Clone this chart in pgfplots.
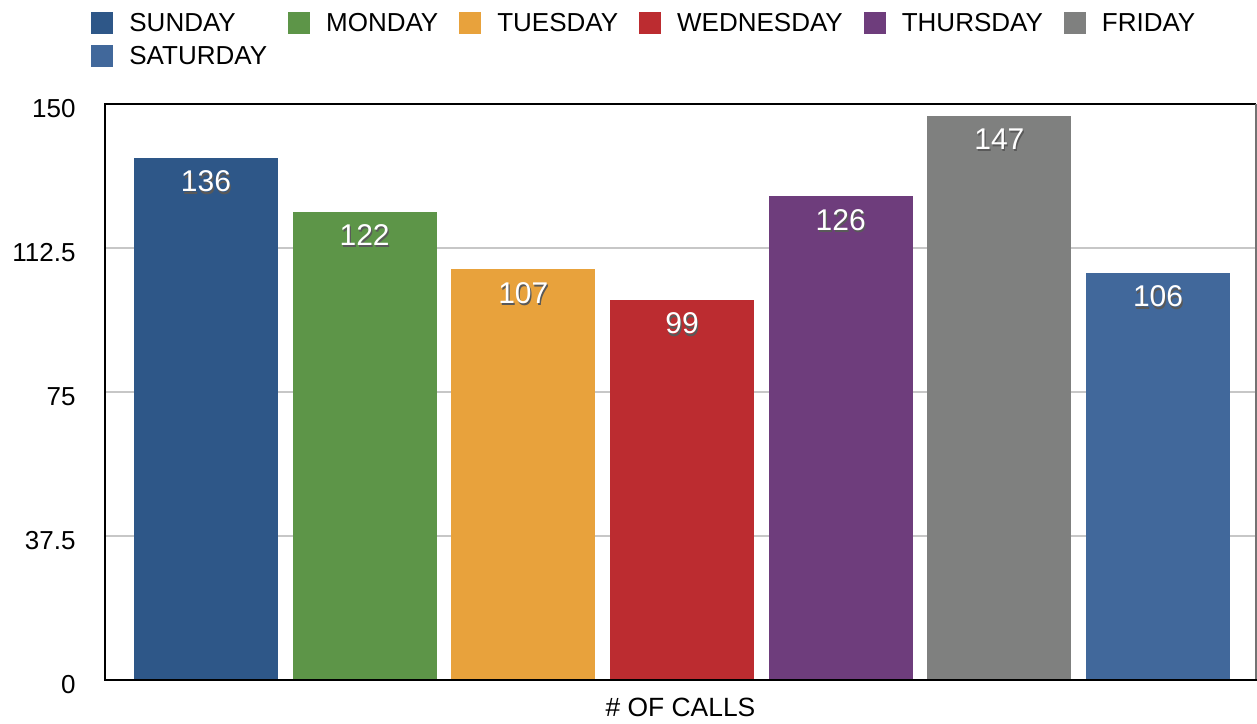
\documentclass[border=0pt]{standalone}
\usepackage{pgfplots}
\pgfplotsset{compat=1.18}
\usepackage{fontspec}
\setmainfont{Liberation Sans}
\definecolor{csun}{HTML}{2E5788}
\definecolor{cmon}{HTML}{5D9548}
\definecolor{ctue}{HTML}{E8A23C}
\definecolor{cwed}{HTML}{BC2C30}
\definecolor{cthu}{HTML}{6E3D7C}
\definecolor{cfri}{HTML}{7F807F}
\definecolor{csat}{HTML}{41689B}
\newcommand\shadowed[1]{\makebox[0pt][l]{\hspace{0.6pt}\raisebox{-1.2pt}{\textcolor{black!65}{#1}}}\textcolor{white}{#1}}
\begin{document}
\begin{tikzpicture}
\begin{axis}[name=ax, scale only axis, width=575.5pt, height=288pt,
  ybar, bar width=72pt, bar shift=0pt,
  xmin=0.3636, xmax=7.6175, ymin=0, ymax=150,
  xtick=\empty, ytick={0,37.5,75,112.5,150},
  ymajorgrids, grid style={color=black!22, line width=0.6pt},
  major tick length=0pt,
  axis line style={draw=none},
  clip=false,
  /pgf/number format/assume math mode=true,
  tick label style={font=\fontsize{13}{15}\selectfont},
  yticklabel style={anchor=east, inner sep=0pt, xshift=-14.5pt, yshift=-2.3pt},
  xlabel={\# OF CALLS},
  xlabel style={font=\fontsize{13.2}{15}\selectfont, at={(axis description cs:0.5,0)}, anchor=north, inner sep=0pt, yshift=-8.8pt},
  legend columns=6,
  legend style={at={(0,1)}, anchor=north west, xshift=-7pt, yshift=46.5pt,
    draw=none, fill=none, inner sep=0pt, font=\fontsize{13}{15}\selectfont,
    row sep=4.5pt, nodes={inner sep=0pt, text height=10pt, text depth=2pt},
    /tikz/every odd column/.append style={column sep=8pt},
    /tikz/every even column/.append style={column sep=10.5pt},
    cells={anchor=west}},
  legend image code/.code={\fill[#1] (0pt,-5.5pt) rectangle (11pt,5.5pt);},
  nodes near coords={\shadowed{\pgfmathprintnumber{\pgfplotspointmeta}}},
  every node near coord/.append style={anchor=north, inner sep=0pt, yshift=-6.3pt, font=\fontsize{15}{17}\selectfont},
]
\addplot[fill=csun, draw=none] coordinates {(1,136)}; \addlegendentry{SUNDAY}
\addplot[fill=cmon, draw=none] coordinates {(2,122)}; \addlegendentry{MONDAY}
\addplot[fill=ctue, draw=none] coordinates {(3,107)}; \addlegendentry{TUESDAY}
\addplot[fill=cwed, draw=none] coordinates {(4,99)}; \addlegendentry{WEDNESDAY}
\addplot[fill=cthu, draw=none] coordinates {(5,126)}; \addlegendentry{THURSDAY}
\addplot[fill=cfri, draw=none] coordinates {(6,147)}; \addlegendentry{FRIDAY}
\addplot[fill=csat, draw=none] coordinates {(7,106)}; \addlegendentry{SATURDAY}
\draw[black, line width=0.9pt] (rel axis cs:0,1) -- (rel axis cs:1,1);
\draw[black!55, line width=0.6pt] (rel axis cs:1,0) -- (rel axis cs:1,1);
\draw[black, line width=1.1pt, line cap=rect] (rel axis cs:0,1) -- (rel axis cs:0,0) -- (rel axis cs:1,0);
\end{axis}
\pgfresetboundingbox
\path[use as bounding box] ([shift={(-52.5pt,-21.5pt)}]ax.south west) rectangle ([shift={(0.5pt,52pt)}]ax.north east);
\end{tikzpicture}
\end{document}
